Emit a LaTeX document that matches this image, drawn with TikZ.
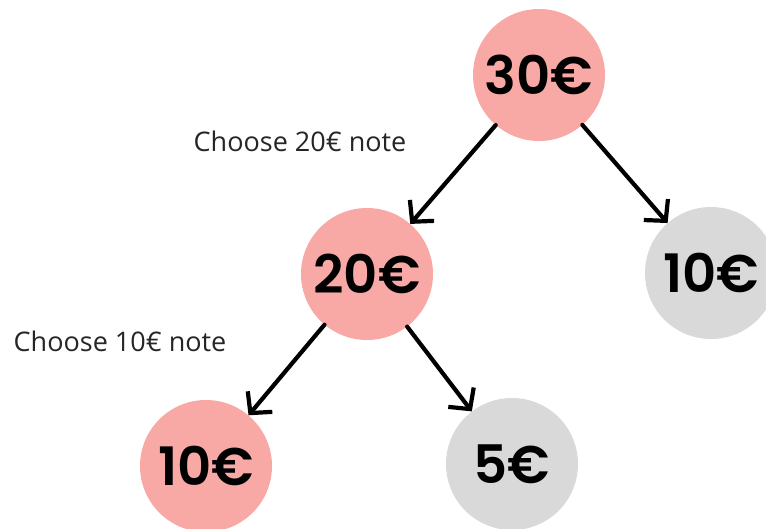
\documentclass[tikz,border=0pt]{standalone}
\usepackage{fontspec}
\setmainfont{Poppins}
\newfontfamily\coinfont{Poppins SemiBold}
\newfontfamily\labelfont{Open Sans}
\usetikzlibrary{arrows.meta}
\definecolor{chosen}{HTML}{F8A9A6}
\definecolor{other}{HTML}{D9D9D9}
\tikzset{
  coin/.style={circle, minimum size=132pt, inner sep=0pt,
    font=\coinfont\fontsize{53pt}{53pt}\selectfont, text=black},
  picked/.style={coin, fill=chosen},
  skipped/.style={coin, fill=other},
  edge/.style={line width=4.2pt, line cap=round,
    -{Straight Barb[length=15pt,width=32pt,line width=4.2pt]}},
  note/.style={font=\labelfont\fontsize{27pt}{27pt}\selectfont, text=black!85}
}
\begin{document}
\begin{tikzpicture}[x=1pt,y=-1pt]
  \useasboundingbox (0,0) rectangle (766,528);
  \begin{scope}
    \clip (0,0) rectangle (766,528);
    \node[picked]  (n30)  at (539,75)  {30€};
    \node[picked]  (n20)  at (367,274) {20€};
    \node[skipped] (n10r) at (711,273) {10€};
    \node[picked]  (n10l) at (206,466) {10€};
    \node[skipped] (n5)   at (512,464) {5€};
    \draw[edge] (n30) -- (n20);
    \draw[edge] (n30) -- (n10r);
    \draw[edge] (n20) -- (n10l);
    \draw[edge] (n20) -- (n5);
  \end{scope}
  \node[note] (l20) at (300,141) {Choose 20€ note};
  \node[note] (l10) at (120,341) {Choose 10€ note};
\end{tikzpicture}
\end{document}
